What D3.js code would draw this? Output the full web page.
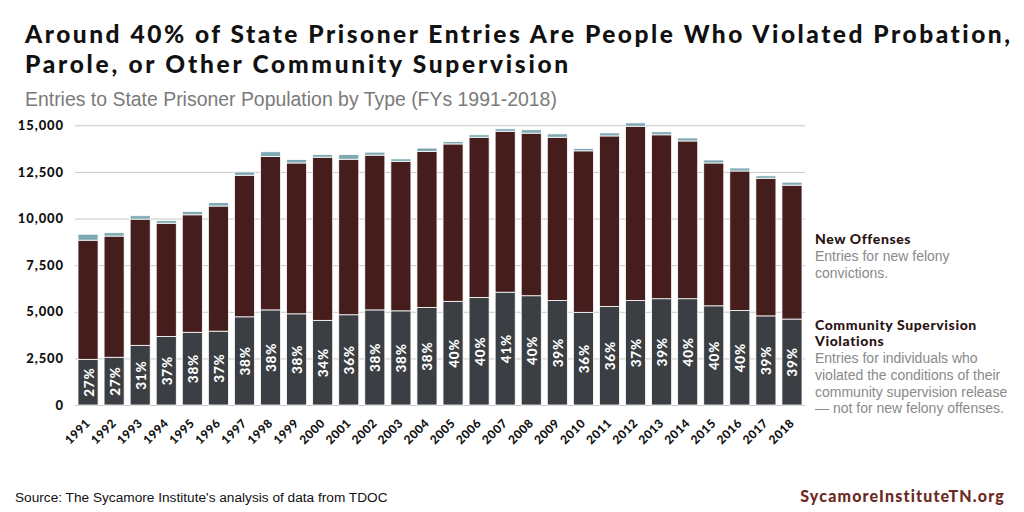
<!DOCTYPE html>
<html>
<head>
<meta charset="utf-8">
<script src="https://cdn.jsdelivr.net/npm/d3@7"></script>
<style>
  html, body { margin: 0; padding: 0; background: #fff; }
  svg { display: block; }
</style>
</head>
<body>
<svg id="chart" width="1024" height="512"></svg>
<script>
// ---------- DATA ----------
const years = ["1991","1992","1993","1994","1995","1996","1997","1998","1999","2000",
  "2001","2002","2003","2004","2005","2006","2007","2008","2009","2010",
  "2011","2012","2013","2014","2015","2016","2017","2018"];
const supervision = [2450, 2560, 3200, 3680, 3900, 3960, 4730, 5100, 4890, 4540,
  4840, 5100, 5050, 5230, 5560, 5770, 6050, 5860, 5610, 4970,
  5290, 5610, 5700, 5700, 5320, 5070, 4780, 4610];
const newOffenses = [6390, 6500, 6770, 6070, 6300, 6710, 7590, 8230, 8090, 8750,
  8340, 8300, 8020, 8370, 8440, 8590, 8630, 8720, 8750, 8660,
  9140, 9340, 8790, 8460, 7660, 7480, 7380, 7180];
const other = [320, 180, 180, 140, 180, 180, 180, 250, 180, 140,
  250, 160, 130, 180, 130, 130, 130, 180, 180, 130,
  160, 180, 160, 160, 160, 160, 130, 160];
const pctLabels = ["27%","27%","31%","37%","38%","37%","38%","38%","38%","34%",
  "36%","38%","38%","38%","40%","40%","41%","40%","39%","36%",
  "36%","37%","39%","40%","40%","40%","39%","39%"];
const yTicks = [0, 2500, 5000, 7500, 10000, 12500, 15000];
const seriesKeys = ["supervision", "newOffenses", "other"];

(function () {
// ---------- SETUP ----------
const svg = d3.select("#chart");
const colors = { supervision: "#3b3f43", newOffenses: "#451d1c", other: "#7ea9b3" };
const boldFont = "Lato, 'Open Sans', sans-serif";
const plainFont = "'Liberation Sans', Arial, sans-serif";

const pLeft = 75, pRight = 805, pTop = 125.3, pBottom = 405;

const table = years.map((yr, i) => ({
  year: yr, supervision: supervision[i], newOffenses: newOffenses[i], other: other[i], pct: pctLabels[i]
}));

const x = d3.scaleBand().domain(years).range([pLeft, pRight]).paddingInner(0.23).paddingOuter(0.115);
const y = d3.scaleLinear().domain([0, 15000]).range([pBottom, pTop]);

function fit(sel, target) {
  const fs = parseFloat(sel.attr("font-size"));
  const w = sel.node().getComputedTextLength();
  if (w > 0) sel.attr("font-size", (fs * target / w).toFixed(2));
  return sel;
}
function spread(sel, target) {
  sel.attr("letter-spacing", 0);
  const w = sel.node().getComputedTextLength();
  const n = sel.text().length;
  if (w > 0 && n > 1) sel.attr("letter-spacing", ((target - w) / n).toFixed(3));
  return sel;
}

// ---------- TITLES ----------
const t1 = svg.append("text").attr("x", 25).attr("y", 42.5)
  .attr("font-family", boldFont).attr("font-weight", 900).attr("font-size", 24.5)
  .attr("fill", "#111").text("Around 40% of State Prisoner Entries Are People Who Violated Probation,");
spread(t1, 988);
const t2 = svg.append("text").attr("x", 25).attr("y", 73)
  .attr("font-family", boldFont).attr("font-weight", 900).attr("font-size", 24.5)
  .attr("fill", "#111").text("Parole, or Other Community Supervision");
spread(t2, 546);
const st = svg.append("text").attr("x", 25).attr("y", 106)
  .attr("font-family", plainFont).attr("font-size", 17).attr("fill", "#7a7a7a")
  .text("Entries to State Prisoner Population by Type (FYs 1991-2018)");
fit(st, 532);

// ---------- Y AXIS / GRID ----------
const yAxis = svg.append("g").attr("transform", `translate(${pLeft},0)`)
  .call(d3.axisLeft(y).tickValues(yTicks).tickFormat(d3.format(",")).tickSize(-(pRight - pLeft)).tickPadding(11));
yAxis.select(".domain").remove();
yAxis.selectAll(".tick line").attr("stroke", "#c8c8c8").attr("stroke-width", 1);
yAxis.selectAll(".tick text").attr("font-family", boldFont).attr("font-weight", 900)
  .attr("font-size", 13).attr("letter-spacing", 0.9).attr("fill", "#111");

// ---------- BARS ----------
const stack = d3.stack().keys(seriesKeys)(table);
svg.append("g").selectAll("g").data(stack).join("g")
  .attr("fill", d => colors[d.key])
  .selectAll("rect").data(d => d).join("rect")
  .attr("x", d => x(d.data.year))
  .attr("width", x.bandwidth())
  .attr("y", d => y(d[1]))
  .attr("height", d => y(d[0]) - y(d[1]))
  .attr("stroke", "#fff").attr("stroke-width", 0.8);

// percent labels
svg.append("g").selectAll("text").data(table).join("text")
  .attr("transform", d => `translate(${x(d.year) + x.bandwidth() / 2 + 0.5},${(y(0) + y(d.supervision)) / 2}) rotate(-90)`)
  .attr("text-anchor", "middle").attr("dominant-baseline", "central")
  .attr("font-family", boldFont).attr("font-weight", 900).attr("font-size", 13.5)
  .attr("letter-spacing", 0.8)
  .attr("fill", "#fff").text(d => d.pct);

// ---------- X AXIS ----------
const xAxis = svg.append("g").attr("transform", `translate(0,${pBottom})`)
  .call(d3.axisBottom(x).tickSize(0).tickPadding(0));
xAxis.select(".domain").remove();
xAxis.selectAll(".tick text")
  .attr("y", 0).attr("dy", 0)
  .attr("transform", "translate(3,19) rotate(-45)")
  .attr("text-anchor", "end")
  .attr("font-family", boldFont).attr("font-weight", 900).attr("font-size", 12)
  .attr("letter-spacing", 0.5).attr("fill", "#111");

// ---------- LEGEND ----------
const lg = svg.append("g");
const lx = 815;
function head(txt, yy) {
  return lg.append("text").attr("x", lx).attr("y", yy).attr("font-family", boldFont)
    .attr("font-weight", 900).attr("font-size", 14).attr("letter-spacing", 0.6)
    .attr("fill", "#2a1412").text(txt);
}
function desc(txt, yy) {
  return lg.append("text").attr("x", lx).attr("y", yy).attr("font-family", plainFont)
    .attr("font-size", 14).attr("fill", "#8a8a8a").text(txt);
}
head("New Offenses", 243.5);
desc("Entries for new felony", 261);
desc("convictions.", 277.5);
head("Community Supervision", 329.5);
head("Violations", 346);
desc("Entries for individuals who", 363);
desc("violated the conditions of their", 380);
desc("community supervision release", 396.5);
desc("— not for new felony offenses.", 413);

// ---------- FOOTER ----------
const src = svg.append("text").attr("x", 15).attr("y", 502)
  .attr("font-family", plainFont).attr("font-size", 13).attr("fill", "#111")
  .text("Source: The Sycamore Institute's analysis of data from TDOC");
fit(src, 373);
const brand = svg.append("text").attr("x", 1005).attr("y", 502).attr("text-anchor", "end")
  .attr("font-family", boldFont).attr("font-weight", 900).attr("font-size", 16)
  .attr("fill", "#6b2a24").text("SycamoreInstituteTN.org");
spread(brand, 205);
})();
</script>
</body>
</html>
